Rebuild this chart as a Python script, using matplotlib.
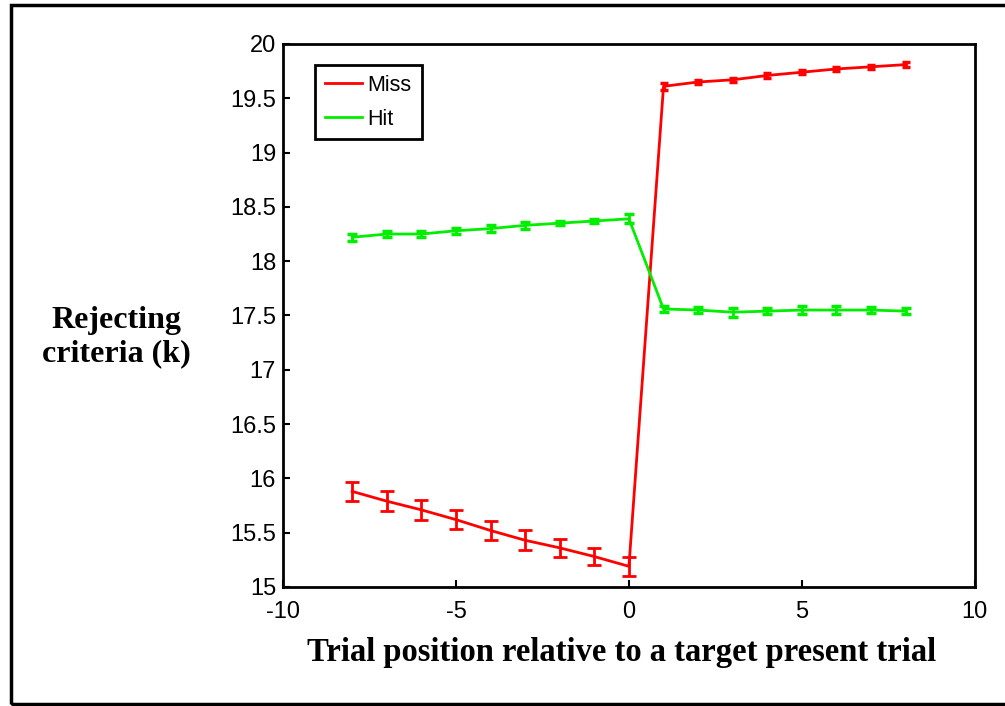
import matplotlib
matplotlib.use("Agg")
import matplotlib.pyplot as plt
from matplotlib.patches import Rectangle
from matplotlib.lines import Line2D

plt.rcParams['axes.unicode_minus'] = False

trial_pos = [-8, -7, -6, -5, -4, -3, -2, -1, 0, 1, 2, 3, 4, 5, 6, 7, 8]
miss_k = [15.88, 15.79, 15.71, 15.62, 15.52, 15.43, 15.36, 15.28, 15.19,
          19.61, 19.65, 19.67, 19.71, 19.74, 19.77, 19.79, 19.81]
miss_err = [0.09, 0.09, 0.09, 0.09, 0.09, 0.09, 0.08, 0.08, 0.09,
            0.03, 0.02, 0.02, 0.02, 0.02, 0.02, 0.02, 0.02]
hit_k = [18.22, 18.25, 18.25, 18.28, 18.30, 18.33, 18.35, 18.37, 18.39,
         17.56, 17.55, 17.53, 17.54, 17.55, 17.55, 17.55, 17.54]
hit_err = [0.03, 0.03, 0.03, 0.03, 0.03, 0.03, 0.02, 0.02, 0.04,
           0.03, 0.03, 0.04, 0.03, 0.04, 0.04, 0.03, 0.03]
xticks = [-10, -5, 0, 5, 10]
yticks = [15, 15.5, 16, 16.5, 17, 17.5, 18, 18.5, 19, 19.5, 20]

RED = '#ff0000'
GREEN = '#00ee00'

fig = plt.figure(figsize=(10.05, 7.06), dpi=100)
ax = fig.add_axes([0.2816, 0.1686, 0.970 - 0.2816, 0.9377 - 0.1686])

# Lines
ax.plot(trial_pos, miss_k, color=RED, lw=2, label='Miss', zorder=3)
ax.plot(trial_pos, hit_k, color=GREEN, lw=2, label='Hit', zorder=3)

# Error bars (pre-target / post-target with different cap widths)
n_pre = 9
ax.errorbar(trial_pos[:n_pre], miss_k[:n_pre], yerr=miss_err[:n_pre], fmt='none',
            ecolor=RED, elinewidth=2, capsize=4.7, capthick=2, zorder=3)
ax.errorbar(trial_pos[n_pre:], miss_k[n_pre:], yerr=miss_err[n_pre:], fmt='none',
            ecolor=RED, elinewidth=2, capsize=3.2, capthick=2.5, zorder=3)
ax.errorbar(trial_pos, hit_k, yerr=hit_err, fmt='none',
            ecolor=GREEN, elinewidth=2, capsize=3.5, capthick=2.5, zorder=3)

ax.set_xlim(-10, 10)
ax.set_ylim(15, 20)
ax.set_xticks(xticks)
ax.set_yticks(yticks)
ax.set_yticklabels([('%g' % v) for v in yticks])
ax.tick_params(direction='in', length=5, width=1.5, labelsize=17,
               top=False, right=False, pad=5)
ax.tick_params(axis='x', pad=10)
for lab in ax.get_xticklabels() + ax.get_yticklabels():
    lab.set_family('Liberation Sans')
for s in ax.spines.values():
    s.set_linewidth(2)

ax.set_xlabel('Trial position relative to a target present trial',
              family='Liberation Serif', fontweight='bold', fontsize=23.5,
              labelpad=9)
ax.xaxis.set_label_coords(0.489, -0.093)
fig.text(0.1155, 0.522, 'Rejecting\ncriteria (k)', family='Liberation Serif',
         fontweight='bold', fontsize=23, ha='center', va='center',
         linespacing=1.2)

handles = [Line2D([], [], color=RED, lw=2), Line2D([], [], color=GREEN, lw=2)]
leg = ax.legend(handles, ['Miss', 'Hit'], loc='upper left',
                bbox_to_anchor=(315 / 1005, 1 - 65 / 706),
                bbox_transform=fig.transFigure,
                prop={'family': 'Liberation Sans', 'size': 15.5},
                fancybox=False, edgecolor='black', framealpha=1,
                handlelength=1.75, borderpad=0.45, labelspacing=0.6,
                handletextpad=0.25, borderaxespad=0)
leg.get_frame().set_linewidth(2)

fig.patches.append(Rectangle((0.011, 0.003), 1.1, 0.99, transform=fig.transFigure,
                             fill=False, edgecolor='black', lw=2.5))

fig.savefig('out.png', dpi=100)
